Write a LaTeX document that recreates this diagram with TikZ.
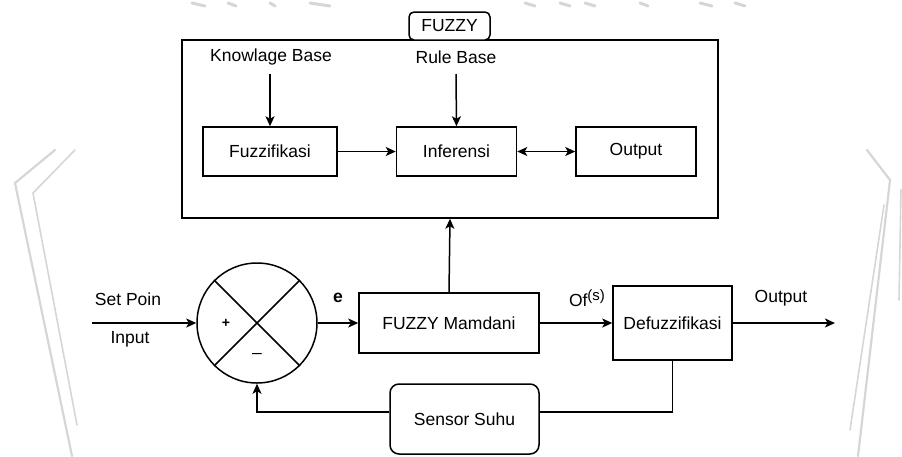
\documentclass[tikz,border=0pt]{standalone}
\usepackage{fontspec}
\setmainfont{Liberation Sans}
\usetikzlibrary{arrows.meta}
\begin{document}
\begin{tikzpicture}[x=1pt,y=-1pt,
  every node/.style={font=\fontsize{17.5}{20}\selectfont},
  blk/.style={draw,line width=1.5pt,inner sep=0pt,minimum width=#1},
  blk/.default=120pt,
  arr/.style={line width=1.5pt,-{Stealth[length=10pt,width=9pt,inset=2.5pt]}},
  ln/.style={line width=1.5pt},
  emblem/.style={draw=black!16,line width=2.2pt,line cap=round}]
  \useasboundingbox (0,0) rectangle (902,456);

  % faint background emblem strokes
  \draw[emblem] (55,150) -- (15,183) -- (72,456);
  \draw[emblem,line width=1.6pt] (75,150) -- (33,193) -- (77,425);
  \draw[emblem] (867,150) -- (890,180) -- (858,456);
  \draw[emblem,line width=1.6pt] (884,205) -- (850,430);
  \draw[emblem,line width=1.6pt] (901,190) -- (899,300);
  \foreach \a/\b in {192/205,228/236,270/275,310/330,525/535,560/570,585/595,640/648,700/712,735/745}
    \draw[emblem,line width=3pt] (\a,3) -- (\b,6);

  % FUZZY knowledge block
  \node[blk=536pt,minimum height=178pt] (fz) at (450,129) {};
  \node[draw,line width=1.5pt,rounded corners=5pt,minimum width=81pt,minimum height=28pt,inner sep=0pt,fill=white] (tab) at (449.5,26) {FUZZY};

  \node (kb) at (271,57) {Knowlage Base};
  \node (rb) at (456,57) {Rule Base};
  \node[blk=134pt,minimum height=49pt] (fuz) at (270,151.5) {Fuzzifikasi};
  \node[blk=120pt,minimum height=49pt] (inf) at (456.5,151.5) {Inferensi};
  \node[blk=120pt,minimum height=49pt] (out) at (636,151.5) {Output};

  \coordinate (kbd) at (270,74);
  \coordinate (rbd) at (456,74);
  \draw[arr] (kbd) -- (fuz.north);
  \draw[arr] (rbd) -- (inf.north);
  \draw[arr] (fuz) -- (inf);
  \draw[ln,{Stealth[length=10pt,width=9pt,inset=2.5pt]}-{Stealth[length=10pt,width=9pt,inset=2.5pt]}] (inf) -- (out);

  % control loop
  \node[draw,circle,line width=1.5pt,minimum size=120pt,inner sep=0pt] (sum) at (257,323) {};
  \draw[ln] (sum.45) -- (sum.225) (sum.135) -- (sum.315);
  \node[font=\fontsize{14}{16}\selectfont\bfseries] (plus) at (226,323) {+};
  \node (minus) at (257,356) {–};

  \coordinate (in) at (92,323);
  \draw[arr] (in) -- (sum.west);
  \node (sp) at (128,299) {Set Poin};
  \node (ip) at (130,339) {Input};

  \node[blk=180pt,minimum height=60pt] (mam) at (449,323) {FUZZY Mamdani};
  \draw[arr] (sum.east) -- (mam.west);
  \node (e) at (338,298) {\textbf{e}};
  \draw[arr] (mam.north) -- (fz.south);

  \node[blk=119pt,minimum height=74pt] (def) at (672.5,323) {Defuzzifikasi};
  \draw[arr] (mam.east) -- (def.west);
  \node (of) at (587,298) {Of\raisebox{6pt}{\fontsize{15}{15}\selectfont(s)}};

  \coordinate (oe) at (835,323);
  \draw[arr] (def.east) -- (oe);
  \node (ol) at (781,298) {Output};

  \node[draw,line width=1.5pt,rounded corners=9pt,minimum width=149pt,minimum height=70pt,inner sep=0pt] (sen) at (464.5,419) {Sensor Suhu};
  \coordinate (senR) at (sen.east |- 0,412);
  \coordinate (senL) at (sen.west |- 0,412);
  \draw[ln] (def.south) |- (senR);
  \draw[arr] (senL) -| (sum.south);
\end{tikzpicture}
\end{document}
